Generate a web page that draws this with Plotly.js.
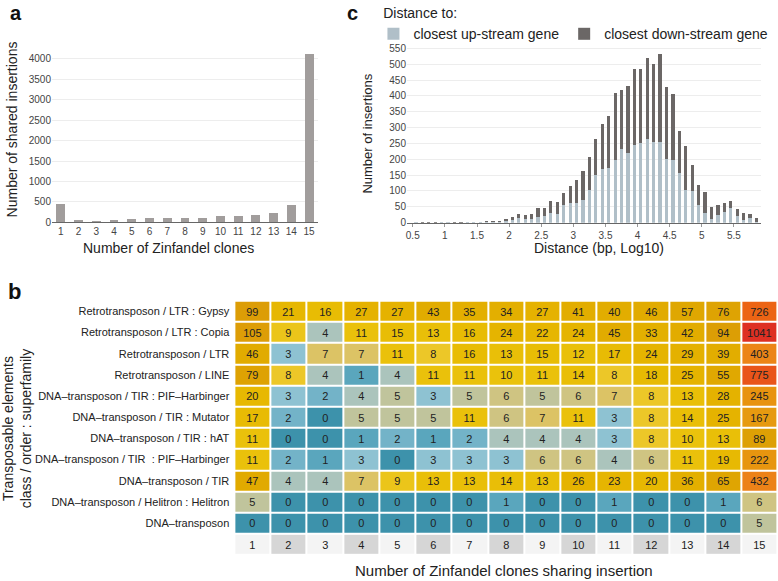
<!DOCTYPE html>
<html>
<head>
<meta charset="utf-8">
<script src="https://cdn.plot.ly/plotly-3.0.1.min.js"></script>
<style>
  html, body { margin: 0; padding: 0; background: #fff; }
  #fig { width: 778px; height: 581px; }
</style>
</head>
<body>
<div id="fig"></div>
<script>
// panel a: shared insertions per number of clones
var clones = [1, 2, 3, 4, 5, 6, 7, 8, 9, 10, 11, 12, 13, 14, 15];
var sharedInsertions = [440, 52, 38, 66, 78, 100, 112, 115, 110, 144, 151, 171, 237, 415, 4111];

// panel c: distance histogram (bin centres, log10 bp)
var distBins = [0.55, 0.65, 0.75, 0.85, 0.95, 1.05, 1.15, 1.25, 1.35, 1.45,
                1.55, 1.65, 1.75, 1.85, 1.95, 2.05, 2.15, 2.25, 2.35, 2.45,
                2.55, 2.65, 2.75, 2.85, 2.95, 3.05, 3.15, 3.25, 3.35, 3.45,
                3.55, 3.65, 3.75, 3.85, 3.95, 4.05, 4.15, 4.25, 4.35, 4.45,
                4.55, 4.65, 4.75, 4.85, 4.95, 5.05, 5.15, 5.25, 5.35, 5.45,
                5.55, 5.65, 5.75, 5.85];
var upStream = [1, 0, 0, 0, 1, 1, 0, 0, 1, 1,
                1, 2, 3, 3, 6, 8, 15, 11, 13, 19,
                22, 32, 27, 57, 61, 63, 72, 103, 151, 168,
                174, 198, 232, 221, 245, 250, 264, 254, 254, 201,
                198, 158, 102, 101, 57, 30, 13, 23, 34, 47,
                21, 10, 16, 3];
var downStream = [1, 1, 1, 1, 1, 1, 1, 1, 1, 1,
                  2, 3, 3, 3, 6, 9, 14, 12, 16, 26,
                  24, 36, 37, 36, 55, 72, 91, 104, 112, 142,
                  161, 212, 185, 210, 240, 235, 256, 246, 278, 228,
                  208, 130, 139, 80, 61, 68, 37, 32, 27, 21,
                  21, 22, 12, 12];

// panel b: TE classes x number of clones
var teClasses = [
  'Retrotransposon / LTR : Gypsy',
  'Retrotransposon / LTR : Copia',
  'Retrotransposon / LTR',
  'Retrotransposon / LINE',
  'DNA–transposon / TIR : PIF–Harbinger',
  'DNA–transposon / TIR : Mutator',
  'DNA–transposon / TIR : hAT',
  'DNA–transposon / TIR \u00a0: PIF–Harbinger',
  'DNA–transposon / TIR',
  'DNA–transposon / Helitron : Helitron',
  'DNA–transposon'
];
var gypsy     = [99, 21, 16, 27, 27, 43, 35, 34, 27, 41, 40, 46, 57, 76, 726];
var copia     = [105, 9, 4, 11, 15, 13, 16, 24, 22, 24, 45, 33, 42, 94, 1041];
var ltr       = [46, 3, 7, 7, 11, 8, 16, 13, 15, 12, 17, 24, 29, 39, 403];
var line      = [79, 8, 4, 1, 4, 11, 11, 10, 11, 14, 8, 18, 25, 55, 775];
var pifHarb   = [20, 3, 2, 4, 5, 3, 5, 6, 5, 6, 7, 8, 13, 28, 245];
var mutator   = [17, 2, 0, 5, 5, 5, 11, 6, 7, 11, 3, 8, 14, 25, 167];
var hat       = [11, 0, 0, 1, 2, 1, 2, 4, 4, 4, 3, 8, 10, 13, 89];
var pifHarb2  = [11, 2, 1, 3, 0, 3, 3, 3, 6, 6, 4, 6, 11, 19, 222];
var tir       = [47, 4, 4, 7, 9, 13, 13, 14, 13, 26, 23, 20, 36, 65, 432];
var helitron  = [5, 0, 0, 0, 0, 0, 0, 1, 0, 0, 1, 0, 0, 1, 6];
var dnaTransp = [0, 0, 0, 0, 0, 0, 0, 0, 0, 0, 0, 0, 0, 0, 5];
var teCounts = [gypsy, copia, ltr, line, pifHarb, mutator, hat, pifHarb2, tir, helitron, dnaTransp];

var FONT = 'Liberation Sans, Arial, Helvetica, sans-serif';

// colour stops by raw count
var zmax = 1041;
var stops = [
  [0, '#3d92ab'], [1, '#5aa6bd'], [2, '#73b3c8'], [3, '#8ec2d2'],
  [4, '#abc4bc'], [5, '#c0c49c'], [6, '#cfc482'], [7, '#dcc365'],
  [8, '#ecc728'], [10, '#eac20c'], [16, '#e8bc04'], [25, '#e5b300'],
  [50, '#e0a900'], [100, '#dc9d06'], [170, '#e69a10'], [250, '#e8930f'],
  [420, '#ec8318'], [726, '#ec6414'], [775, '#e9551a'], [1041, '#de3023']
];
var teScale = stops.map(function (s) { return [s[0] / zmax, s[1]]; });

var rowIdx = teClasses.map(function (d, i) { return i; });

var traceA = {
  type: 'bar', x: clones, y: sharedInsertions,
  marker: {color: '#a19d9c'}, xaxis: 'x', yaxis: 'y',
  showlegend: false, hoverinfo: 'x+y'
};

var traceUp = {
  type: 'bar', x: distBins, y: upStream, name: 'closest up-stream gene',
  marker: {color: '#b0bfc8'}, xaxis: 'x2', yaxis: 'y2'
};
var traceDown = {
  type: 'bar', x: distBins, y: downStream, name: 'closest down-stream gene',
  marker: {color: '#6b6766'}, xaxis: 'x2', yaxis: 'y2'
};

var traceHeat = {
  type: 'heatmap', x: clones, y: rowIdx, z: teCounts,
  zmin: 0, zmax: zmax, colorscale: teScale, showscale: false,
  xgap: 2, ygap: 2, xaxis: 'x3', yaxis: 'y3',
  texttemplate: '%{z}', textfont: {family: FONT, size: 11, color: '#222'},
  hoverongaps: false
};

// grey/white band carrying the clone numbers
var traceNums = {
  type: 'heatmap', x: clones, y: [11],
  z: [clones.map(function (c) { return c % 2; })],
  text: [clones],
  zmin: 0, zmax: 1, colorscale: [[0, '#d6d6d6'], [1, '#f4f4f4']], showscale: false,
  xgap: 2, ygap: 2, xaxis: 'x3', yaxis: 'y3',
  texttemplate: '%{text}', textfont: {family: FONT, size: 11, color: '#222'},
  hoverinfo: 'skip'
};

var tickFont = {family: FONT, size: 10, color: '#444'};

function ann(text, x, y, opts) {
  var a = {text: text, x: x, y: y, xref: 'paper', yref: 'paper',
           showarrow: false, xanchor: 'center', yanchor: 'middle',
           font: {family: FONT, size: 14, color: '#222'}};
  for (var k in opts) a[k] = opts[k];
  return a;
}

var panelFont = {family: FONT, size: 20, color: '#111'};

var layout = {
  width: 778, height: 581,
  margin: {l: 0, r: 0, t: 0, b: 0, autoexpand: false},
  paper_bgcolor: '#fff', plot_bgcolor: '#fff',
  font: {family: FONT, color: '#222'},
  barmode: 'stack', bargap: 0.5,
  xaxis: {
    domain: [0.0668, 0.4087], range: [0.5, 15.5],
    tickvals: clones, tickfont: tickFont, ticks: '',
    showgrid: false, zeroline: false,
    showline: true, linecolor: '#666', linewidth: 1
  },
  yaxis: {
    domain: [0.6174, 0.9126], range: [0, 4200], dtick: 500,
    tickfont: tickFont, gridcolor: '#ededed', zeroline: false, ticks: ''
  },
  xaxis2: {
    domain: [0.5231, 0.9781], range: [0.41, 5.92], anchor: 'y2',
    dtick: 0.5, tick0: 0.5, tickfont: tickFont,
    ticks: 'outside', ticklen: 3, tickcolor: '#999',
    showgrid: false, zeroline: false,
    showline: true, linecolor: '#666', linewidth: 1
  },
  yaxis2: {
    domain: [0.6167, 0.9196], range: [0, 555], dtick: 50, anchor: 'x2',
    tickfont: tickFont, gridcolor: '#ededed', zeroline: false, ticks: ''
  },
  xaxis3: {
    domain: [0.3012, 0.9996], range: [0.5, 15.5], anchor: 'y3',
    showticklabels: false, showgrid: false, zeroline: false, ticks: ''
  },
  yaxis3: {
    domain: [0.0448, 0.4824], range: [11.5, -0.5], anchor: 'x3',
    tickvals: rowIdx, ticktext: teClasses, ticks: '', ticklabelstandoff: 4,
    tickfont: {family: FONT, size: 11, color: '#222'},
    showgrid: false, zeroline: false
  },
  legend: {
    orientation: 'h', traceorder: 'normal',
    x: 0.48, y: 1.0, xanchor: 'left', yanchor: 'top',
    title: {text: '\u00a0\u00a0Distance to:', side: 'top', font: {family: FONT, size: 14, color: '#222'}},
    font: {family: FONT, size: 14, color: '#222'},
    bgcolor: 'rgba(0,0,0,0)', itemwidth: 30
  },
  annotations: [
    ann('<b>a</b>', 0.02, 1.0, {yanchor: 'top', font: panelFont}),
    ann('<b>c</b>', 0.453, 1.0, {yanchor: 'top', font: panelFont}),
    ann('<b>b</b>', 0.018, 0.498, {font: {family: FONT, size: 22, color: '#111'}}),
    ann('Number of shared insertions', 0.016, 0.778, {textangle: -90}),
    ann('Number of Zinfandel clones', 0.216, 0.573, {}),
    ann('Number of insertions', 0.473, 0.77, {textangle: -90, font: {family: FONT, size: 13, color: '#222'}}),
    ann('Distance (bp, Log10)', 0.77, 0.573, {}),
    ann('Transposable elements<br>class / order : superfamily', 0.022, 0.263,
        {textangle: -90, font: {family: FONT, size: 14, color: '#222'}}),
    ann('Number of Zinfandel clones sharing insertion', 0.648, 0.0,
        {yanchor: 'bottom', font: {family: FONT, size: 15, color: '#222'}})
  ]
};

Plotly.newPlot('fig', [traceA, traceUp, traceDown, traceHeat, traceNums], layout, {displayModeBar: false, staticPlot: true});
</script>
</body>
</html>
